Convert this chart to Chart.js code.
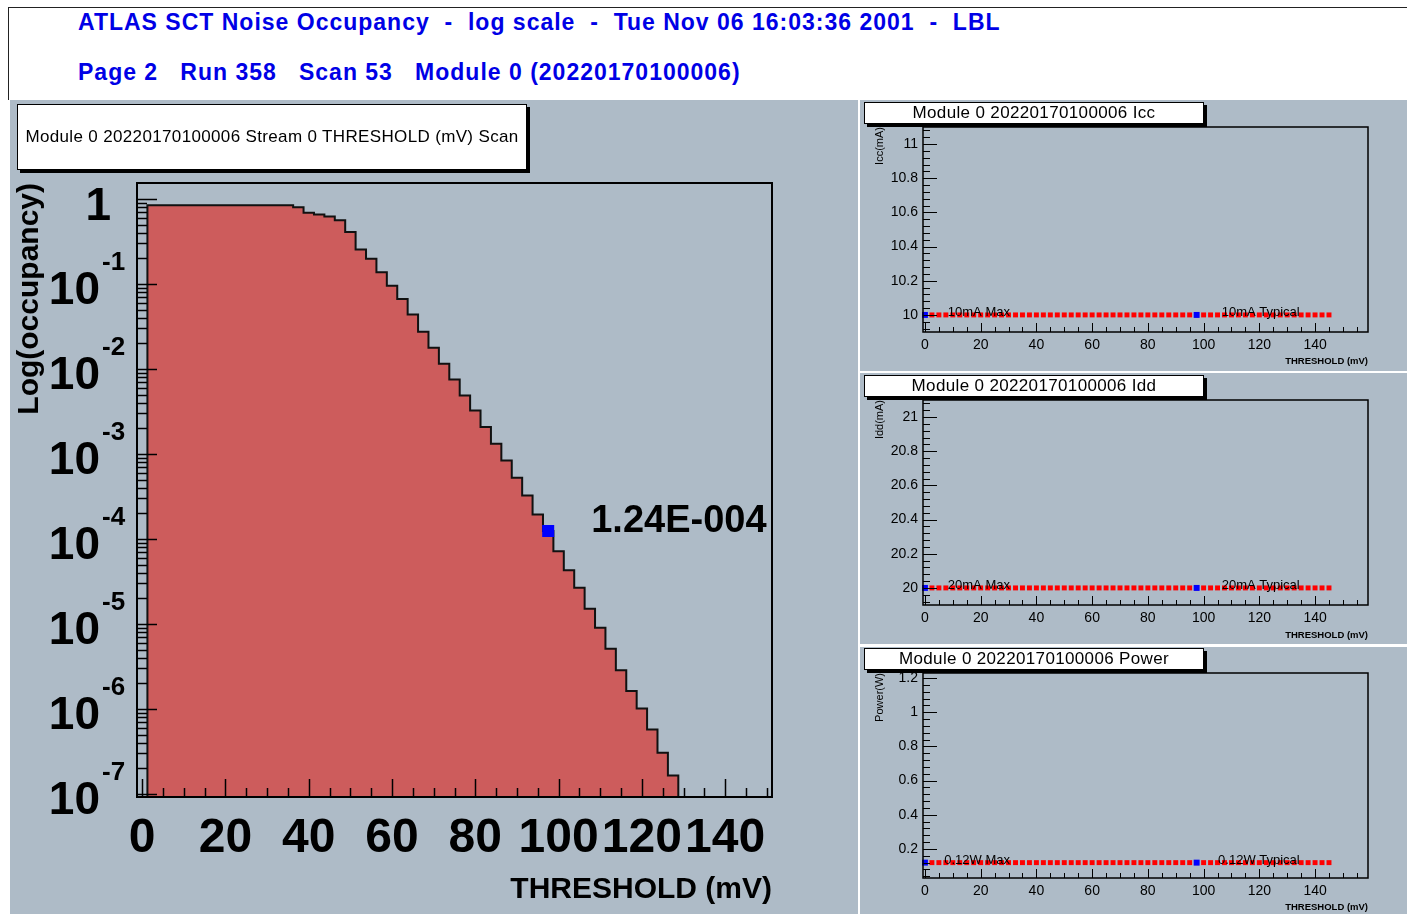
<!DOCTYPE html>
<html>
<head>
<meta charset="utf-8">
<script src="https://cdn.jsdelivr.net/npm/chart.js@4.4.1/dist/chart.umd.min.js"></script>
<style>
  html, body { margin: 0; padding: 0; background: #fff; }
  body { width: 1407px; height: 914px; position: relative; overflow: hidden; font-family: 'Liberation Sans', Arial, sans-serif; }
  #header { position: absolute; left: 8px; top: 7px; width: 1420px; height: 92px; border-left: 1px solid #222; border-top: 1px solid #222; background: #fff; }
  .hline { position: absolute; left: 69px; color: #0000e6; font-weight: bold; font-size: 23px; line-height: 24px; letter-spacing: 1px; white-space: pre; }
  .pad { position: absolute; background: rgb(174, 187, 199); }
  .tbox { position: absolute; background: #fff; border: 1px solid #000; box-shadow: 3px 3px 0 #000; font-size: 17px; letter-spacing: 0.35px; color: #000; white-space: pre; text-align: center; }
  canvas { position: absolute; }
</style>
</head>
<body>
<div id="header">
  <div class="hline" style="top:2px">ATLAS SCT Noise Occupancy  -  log scale  -  Tue Nov 06 16:03:36 2001  -  LBL</div>
  <div class="hline" style="top:52px">Page 2   Run 358   Scan 53   Module 0 (20220170100006)</div>
</div>

<div class="pad" style="left:10px; top:100px; width:848px; height:814px;"></div>
<div class="pad" style="left:860px; top:100px; width:547px; height:271px;"></div>
<div class="pad" style="left:860px; top:373px; width:547px; height:271px;"></div>
<div class="pad" style="left:860px; top:647px; width:547px; height:267px;"></div>

<canvas id="main" width="848" height="814" style="left:10px; top:100px;"></canvas>
<canvas id="icc" width="547" height="272" style="left:860px; top:100px;"></canvas>
<canvas id="idd" width="547" height="273" style="left:860px; top:372px;"></canvas>
<canvas id="power" width="547" height="269" style="left:860px; top:645px;"></canvas>

<div class="tbox" style="left:17px; top:104px; width:508px; height:64px; line-height:64px;">Module 0 20220170100006 Stream 0 THRESHOLD (mV) Scan</div>
<div class="tbox" style="left:864px; top:102px; width:338px; height:20px; line-height:20px;">Module 0 20220170100006 Icc</div>
<div class="tbox" style="left:864px; top:375px; width:338px; height:20px; line-height:20px;">Module 0 20220170100006 Idd</div>
<div class="tbox" style="left:864px; top:648px; width:338px; height:20px; line-height:20px;">Module 0 20220170100006 Power</div>

<script>
// threshold scan points (mV)
const thresholds = [
  2.5, 5, 7.5, 10, 12.5, 15, 17.5, 20, 22.5, 25, 27.5, 30, 32.5, 35,
  37.5, 40, 42.5, 45, 47.5, 50, 52.5, 55, 57.5, 60, 62.5, 65, 67.5, 70,
  72.5, 75, 77.5, 80, 82.5, 85, 87.5, 90, 92.5, 95, 97.5, 100, 102.5, 105,
  107.5, 110, 112.5, 115, 117.5, 120, 122.5, 125, 127.5, 130, 132.5, 135,
  137.5, 140, 142.5, 145
];

// noise occupancy per threshold
const occupancy = [
  0.84, 0.84, 0.84, 0.84, 0.84, 0.84, 0.84, 0.84, 0.84, 0.84, 0.84, 0.84, 0.84, 0.84,
  0.80, 0.689, 0.657, 0.622, 0.563, 0.409, 0.255, 0.198, 0.137, 0.0953, 0.0663, 0.0438, 0.0274, 0.0178,
  0.0115, 0.00752, 0.00488, 0.00325, 0.00207, 0.00132, 0.000839, 0.000525, 0.000325, 0.000194, 0.000124, 7.18e-5, 4.29e-5, 2.67e-5,
  1.51e-5, 9.02e-6, 5.11e-6, 2.86e-6, 1.62e-6, 1.01e-6, 5.74e-7, 3.05e-7, 1.65e-7, 0, 0, 0,
  0, 0, 0, 0
];

// currents and power per threshold
const iccValues = [
  10, 10, 10, 10, 10, 10, 10, 10, 10, 10, 10, 10, 10, 10,
  10, 10, 10, 10, 10, 10, 10, 10, 10, 10, 10, 10, 10, 10,
  10, 10, 10, 10, 10, 10, 10, 10, 10, 10, 10, 10, 10, 10,
  10, 10, 10, 10, 10, 10, 10, 10, 10, 10, 10, 10,
  10, 10, 10, 10
];
const iddValues = [
  20, 20, 20, 20, 20, 20, 20, 20, 20, 20, 20, 20, 20, 20,
  20, 20, 20, 20, 20, 20, 20, 20, 20, 20, 20, 20, 20, 20,
  20, 20, 20, 20, 20, 20, 20, 20, 20, 20, 20, 20, 20, 20,
  20, 20, 20, 20, 20, 20, 20, 20, 20, 20, 20, 20,
  20, 20, 20, 20
];
const powerValues = [
  0.12, 0.12, 0.12, 0.12, 0.12, 0.12, 0.12, 0.12, 0.12, 0.12, 0.12, 0.12, 0.12, 0.12,
  0.12, 0.12, 0.12, 0.12, 0.12, 0.12, 0.12, 0.12, 0.12, 0.12, 0.12, 0.12, 0.12, 0.12,
  0.12, 0.12, 0.12, 0.12, 0.12, 0.12, 0.12, 0.12, 0.12, 0.12, 0.12, 0.12, 0.12, 0.12,
  0.12, 0.12, 0.12, 0.12, 0.12, 0.12, 0.12, 0.12, 0.12, 0.12, 0.12, 0.12,
  0.12, 0.12, 0.12, 0.12
];

// reference markers (max, typical)
const markerX = [0, 97.5];
const iccMarkers = [10, 10];
const iddMarkers = [20, 20];
const powerMarkers = [0.12, 0.12];
const iccNotes = ['10mA Max', '10mA Typical'];
const iddNotes = ['20mA Max', '20mA Typical'];
const powerNotes = ['0.12W Max', '0.12W Typical'];

// occupancy at the typical threshold
const typicalThreshold = [97.5];
const typicalOccupancy = [1.24e-4];
const typicalNote = ['1.24E-004'];

// tick labels
const mainXTicks = [0, 20, 40, 60, 80, 100, 120, 140];
const mainXTickLabels = ['0', '20', '40', '60', '80', '100', '120', '140'];
const mainYDecades = [-7, -6, -5, -4, -3, -2, -1, 0];
const sideXTicks = [0, 20, 40, 60, 80, 100, 120, 140];
const sideXTickLabels = ['0', '20', '40', '60', '80', '100', '120', '140'];
const iccTicks = [10, 10.2, 10.4, 10.6, 10.8, 11];
const iccTickLabels = ['10', '10.2', '10.4', '10.6', '10.8', '11'];
const iddTicks = [20, 20.2, 20.4, 20.6, 20.8, 21];
const iddTickLabels = ['20', '20.2', '20.4', '20.6', '20.8', '21'];
const powerTicks = [0.2, 0.4, 0.6, 0.8, 1, 1.2];
const powerTickLabels = ['0.2', '0.4', '0.6', '0.8', '1', '1.2'];

Chart.defaults.font.family = "'Liberation Sans', Arial, sans-serif";
Chart.defaults.color = '#000';

// ROOT-like tick lists: majors from the arrays, minors in between
function linearTickList(majors, step, min, max) {
  const list = majors.filter(v => v >= min && v <= max).map(v => ({value: v, major: true}));
  const base = majors[0];
  for (let k = Math.ceil((min - base) / step); base + k * step <= max + 1e-9; k++) {
    const v = base + k * step;
    if (!majors.some(m => Math.abs(m - v) < step / 10)) list.push({value: v, major: false});
  }
  return list.sort((a, b) => a.value - b.value);
}

function logTickList(decades, min, max) {
  const list = [];
  for (let e = decades[0] - 1; e <= decades[decades.length - 1]; e++) {
    for (let k = 1; k <= 9; k++) {
      const v = k * Math.pow(10, e);
      if (v >= min && v <= max) list.push({value: v, major: k === 1});
    }
  }
  return list;
}

function labelFor(ticks, labels) {
  return (value) => {
    const i = ticks.findIndex(t => Math.abs(t - value) < 1e-9);
    return i >= 0 ? labels[i] : '';
  };
}

// frame, inward ticks, power-of-ten labels and text notes
const rootAxes = {
  id: 'rootAxes',
  afterDatasetsDraw(chart, args, opts) {
    const {ctx, chartArea: a} = chart;
    const xs = chart.scales.x, ys = chart.scales.y;
    ctx.save();
    ctx.strokeStyle = '#000';
    ctx.lineWidth = opts.tickWidth;
    xs.ticks.forEach(t => {
      const px = Math.round(xs.getPixelForValue(t.value)) + 0.5;
      const len = t.major ? opts.xMajor : opts.xMinor;
      ctx.beginPath(); ctx.moveTo(px, a.bottom); ctx.lineTo(px, a.bottom - len); ctx.stroke();
    });
    ys.ticks.forEach(t => {
      const py = Math.round(ys.getPixelForValue(t.value)) + 0.5;
      const len = t.major ? opts.yMajor : opts.yMinor;
      ctx.beginPath(); ctx.moveTo(a.left, py); ctx.lineTo(a.left + len, py); ctx.stroke();
    });
    ctx.lineWidth = opts.frameWidth;
    ctx.strokeRect(a.left, a.top, a.right - a.left, a.bottom - a.top);

    ctx.fillStyle = '#000';
    if (opts.powerLabels) {
      ys.ticks.filter(t => t.major).forEach(t => {
        const py = ys.getPixelForValue(t.value);
        const e = Math.round(Math.log10(t.value));
        ctx.textBaseline = 'middle';
        ctx.textAlign = 'right';
        ctx.font = "bold 46px 'Liberation Sans', Arial, sans-serif";
        if (e === 0) {
          ctx.fillText('1', a.left - 26, py + 8);
        } else {
          ctx.fillText('10', a.left - 37, py + 7);
          ctx.textAlign = 'left';
          ctx.font = "bold 26px 'Liberation Sans', Arial, sans-serif";
          ctx.fillText(String(e), a.left - 35, py - 21);
        }
      });
    }
    (opts.notes || []).forEach(n => {
      ctx.font = n.font;
      ctx.textAlign = n.align;
      ctx.textBaseline = n.baseline;
      ctx.fillText(n.text, xs.getPixelForValue(n.x) + n.dx, ys.getPixelForValue(n.y) + n.dy);
    });
    ctx.restore();
  }
};

// ---- main occupancy histogram ----
const yMin = 9.2e-8, yMax = 1.54;
const halfBin = 1.25;
const histPoints = [];
let lastT = null;
thresholds.forEach((t, i) => {
  const v = occupancy[i];
  if (v > 0) {
    if (!histPoints.length) histPoints.push({x: t - halfBin, y: yMin});
    histPoints.push({x: t - halfBin, y: v});
    lastT = t;
  }
});
histPoints.push({x: lastT + halfBin, y: yMin});

new Chart(document.getElementById('main'), {
  type: 'line',
  data: {
    datasets: [{
      data: typicalThreshold.map((t, i) => ({x: t, y: typicalOccupancy[i]})),
      showLine: false,
      pointStyle: 'rect',
      pointRadius: 8.5,
      backgroundColor: '#0000ff',
      borderColor: '#0000ff',
      borderWidth: 0,
      clip: false
    }, {
      data: histPoints,
      stepped: true,
      fill: 'start',
      backgroundColor: 'rgb(205, 92, 92)',
      borderColor: '#111',
      borderWidth: 2,
      pointRadius: 0
    }]
  },
  options: {
    responsive: false,
    animation: false,
    events: [],
    layout: { padding: { top: 83, right: 86, left: 0, bottom: 0 } },
    plugins: {
      legend: { display: false },
      tooltip: { enabled: false },
      rootAxes: {
        tickWidth: 1.5, frameWidth: 2,
        xMajor: 18, xMinor: 9, yMajor: 20, yMinor: 10,
        powerLabels: true,
        notes: [{ x: typicalThreshold[0], y: typicalOccupancy[0], text: typicalNote[0],
                  font: "bold 38px 'Liberation Sans', Arial, sans-serif",
                  align: 'left', baseline: 'middle', dx: 43, dy: -9 }]
      }
    },
    scales: {
      x: {
        type: 'linear', min: -1.25, max: 151.25,
        grid: { display: false, drawTicks: false },
        border: { display: false },
        afterBuildTicks: s => { s.ticks = linearTickList(mainXTicks, 5, -1.25, 151.25); },
        afterFit: s => { s.height = 117; },
        ticks: { autoSkip: false, maxRotation: 0, minRotation: 0, padding: 13,
                 font: { size: 48, weight: 'bold' },
                 callback: labelFor(mainXTicks, mainXTickLabels) },
        title: { display: true, text: 'THRESHOLD (mV)', align: 'end',
                 font: { size: 30, weight: 'bold' }, padding: { top: 0, bottom: 6 } }
      },
      y: {
        type: 'logarithmic', min: yMin, max: yMax,
        grid: { display: false, drawTicks: false },
        border: { display: false },
        afterBuildTicks: s => { s.ticks = logTickList(mainYDecades, yMin, yMax); },
        afterFit: s => { s.width = 127; },
        ticks: { display: false },
        title: { display: true, text: 'Log(occupancy)', align: 'end',
                 font: { size: 30, weight: 'bold' }, padding: { top: 2, bottom: 0 } }
      }
    }
  },
  plugins: [rootAxes]
});

// ---- Icc / Idd / Power panels ----
function sidePanel(id, values, markers, notes, yTitle, yMinV, yMaxV, yTicks, yTickLabels, padTop, xHeight, titlePad) {
  new Chart(document.getElementById(id), {
    type: 'line',
    data: {
      datasets: [{
        data: markerX.map((x, i) => ({x: x, y: markers[i]})),
        showLine: false,
        pointStyle: 'rect',
        pointRadius: 4.2,
        backgroundColor: '#0000ff',
        borderWidth: 0,
        clip: false
      }, {
        data: thresholds.map((t, i) => ({x: t, y: values[i]})),
        showLine: false,
        pointStyle: 'rect',
        pointRadius: 3.5,
        backgroundColor: '#ff0000',
        borderWidth: 0,
        clip: false
      }]
    },
    options: {
      responsive: false,
      animation: false,
      events: [],
      layout: { padding: { top: padTop, right: 39, left: 0, bottom: 0 } },
      plugins: {
        legend: { display: false },
        tooltip: { enabled: false },
        rootAxes: {
          tickWidth: 1, frameWidth: 1.5,
          xMajor: 9, xMinor: 5, yMajor: 14, yMinor: 7,
          notes: [
            { x: 30.5, y: markers[0], text: notes[0], font: "13px 'Liberation Sans', Arial, sans-serif",
              align: 'right', baseline: 'alphabetic', dx: 0, dy: 1 },
            { x: 134.5, y: markers[1], text: notes[1], font: "13px 'Liberation Sans', Arial, sans-serif",
              align: 'right', baseline: 'alphabetic', dx: 0, dy: 1 }
          ]
        }
      },
      scales: {
        x: {
          type: 'linear', min: -0.7, max: 159,
          grid: { display: false, drawTicks: false },
          border: { display: false },
          afterBuildTicks: s => { s.ticks = linearTickList(sideXTicks, 5, -0.7, 159); },
          afterFit: s => { s.height = xHeight; },
          ticks: { autoSkip: false, maxRotation: 0, minRotation: 0, padding: 5,
                   font: { size: 14 }, callback: labelFor(sideXTicks, sideXTickLabels) },
          title: { display: true, text: 'THRESHOLD (mV)', align: 'end',
                   font: { size: 9.5, weight: 'bold' }, padding: { top: 0, bottom: titlePad } }
        },
        y: {
          type: 'linear', min: yMinV, max: yMaxV,
          grid: { display: false, drawTicks: false },
          border: { display: false },
          afterBuildTicks: s => { s.ticks = linearTickList(yTicks, 0.04, yMinV, yMaxV); },
          afterFit: s => { s.width = 63; },
          ticks: { autoSkip: false, padding: 5, font: { size: 14 },
                   callback: labelFor(yTicks, yTickLabels) },
          title: { display: true, text: yTitle, align: 'end',
                   font: { size: 11 }, padding: { top: 13, bottom: 0 } }
        }
      }
    },
    plugins: [rootAxes]
  });
}

sidePanel('icc', iccValues, iccMarkers, iccNotes, 'Icc(mA)', 9.9, 11.1, iccTicks, iccTickLabels, 27, 40, 4.6);
sidePanel('idd', iddValues, iddMarkers, iddNotes, 'Idd(mA)', 19.9, 21.1, iddTicks, iddTickLabels, 28, 40, 3.6);
sidePanel('power', powerValues, powerMarkers, powerNotes, 'Power(W)', 0.03, 1.23, powerTicks, powerTickLabels, 28, 36, 0.6);
</script>
</body>
</html>
